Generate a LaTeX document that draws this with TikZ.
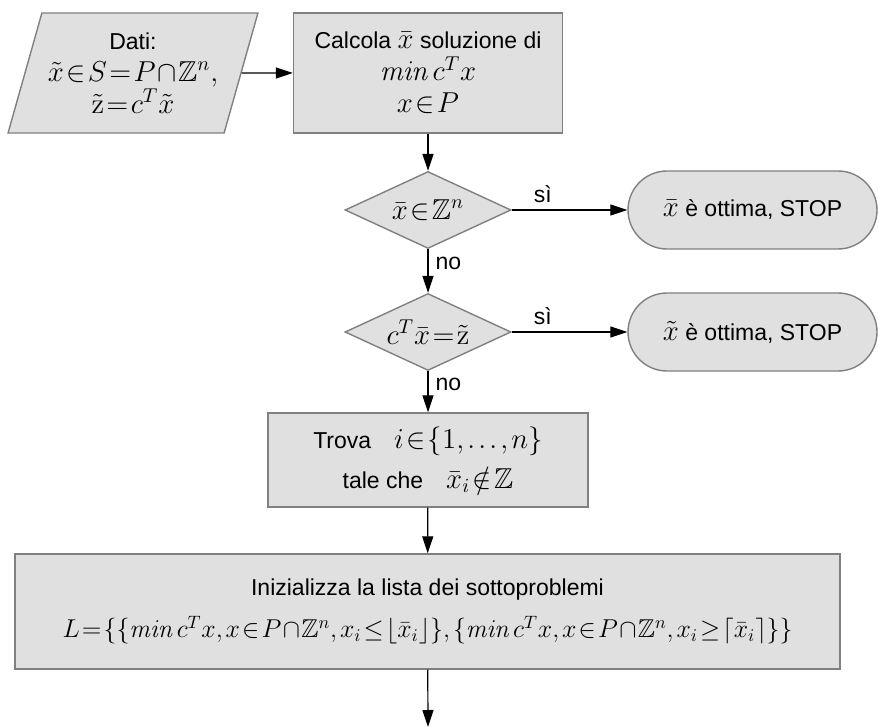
\documentclass[tikz,border=0pt]{standalone}
\usepackage{amssymb}
\usepackage{graphicx}
\usepackage[no-math]{fontspec}
\setmainfont{Liberation Sans}
\usetikzlibrary{shapes.geometric,shapes.misc,arrows.meta}

\definecolor{boxfill}{HTML}{E0E0E0}
\definecolor{boxline}{HTML}{808080}
\newcommand\mth[1]{{\fontsize{14.4}{16}\selectfont
  \thinmuskip=2mu \medmuskip=1mu \thickmuskip=1.5mu $#1$}}

\begin{document}
\begin{tikzpicture}[x=0.5pt, y=-0.5pt,
    shape box/.style={draw=boxline, fill=boxfill, line width=0.7pt, align=center, inner sep=0pt,
      font=\fontsize{11.5}{16}\selectfont},
    procbox/.style={shape box, rectangle},
    databox/.style={shape box, trapezium, trapezium left angle=68.6, trapezium right angle=111.4,
      trapezium stretches=true},
    testbox/.style={shape box, diamond, aspect=2.15},
    stopbox/.style={shape box, rounded rectangle},
    flow/.style={draw, line width=0.6pt, -{Triangle[length=8.5pt, width=5.5pt]}},
    lbl/.style={font=\fontsize{11.5}{14}\selectfont, inner sep=3.5pt}
]
    \useasboundingbox (0,0) rectangle (878,727);

    \node[databox, minimum width=125pt, minimum height=60pt] (dati) at (133,73)
        {Dati:\\ \mth{\tilde{x}\in S=P\cap\mathbb{Z}^n,}\\ \mth{\tilde{\mathrm{z}}=c^T\tilde{x}}};
    \node[procbox, minimum width=134.5pt, minimum height=60pt] (calcola) at (428,73)
        {Calcola \mth{\bar{x}} soluzione di\\ \mth{\mathit{min}\,c^T x}\\ \mth{x\in P}};

    \node[testbox, minimum width=83pt, minimum height=38.5pt] (intero) at (428,210)
        {\mth{\bar{x}\in\mathbb{Z}^n}};
    \node[stopbox, minimum width=124.5pt, minimum height=39pt] (stop1) at (752.5,210)
        {\mth{\bar{x}} è ottima, STOP};

    \node[testbox, minimum width=83pt, minimum height=38.5pt] (uguale) at (428,332)
        {\mth{c^T\bar{x}=\tilde{\mathrm{z}}}};
    \node[stopbox, minimum width=124.5pt, minimum height=39pt] (stop2) at (752.5,332)
        {\mth{\tilde{x}} è ottima, STOP};

    \node[procbox, minimum width=160pt, minimum height=47pt] (trova) at (428,460)
        {Trova\quad \mth{i\in\{1,\dots,n\}}\\[4pt] tale che\quad \mth{\bar{x}_i\notin\mathbb{Z}}};

    \node[procbox, minimum width=412.5pt, minimum height=57.5pt] (lista) at (427.5,611.5)
        {Inizializza la lista dei sottoproblemi\\[5pt]
         \resizebox{365pt}{!}{\mth{L=\bigl\{\{\mathit{min}\,c^T x, x\in P\cap\mathbb{Z}^n, x_i\le\lfloor\bar{x}_i\rfloor\},
           \{\mathit{min}\,c^T x, x\in P\cap\mathbb{Z}^n, x_i\ge\lceil\bar{x}_i\rceil\}\bigr\}}}};

    \coordinate (fine) at (428,727);

    \draw[flow] (dati) -- (calcola);
    \draw[flow] (calcola) -- (intero);
    \draw[flow] (intero) -- node[lbl, above, pos=0.27] {sì} (stop1);
    \draw[flow] (intero) -- node[lbl, right, pos=0.33] {no} (uguale);
    \draw[flow] (uguale) -- node[lbl, above, pos=0.27] {sì} (stop2);
    \draw[flow] (uguale) -- node[lbl, right, pos=0.33] {no} (trova);
    \draw[flow] (trova) -- (lista);
    \draw[flow] (lista) -- (fine);
\end{tikzpicture}
\end{document}
